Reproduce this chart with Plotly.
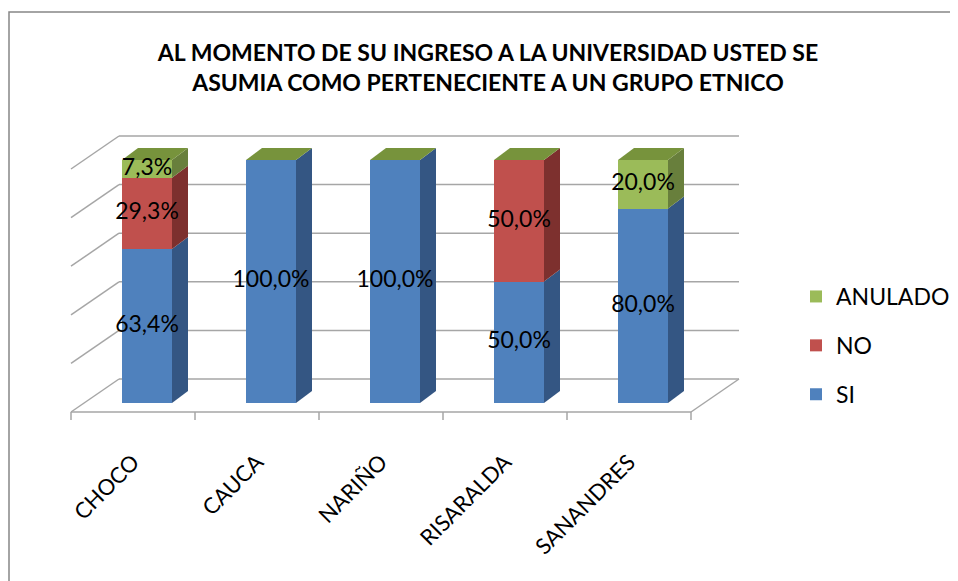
import plotly.graph_objects as go

# data
categories = ['CHOCO', 'CAUCA', 'NARIÑO', 'RISARALDA', 'SANANDRES']
si = [63.4, 100.0, 100.0, 50.0, 80.0]
no = [29.3, 0.0, 0.0, 50.0, 0.0]
anulado = [7.3, 0.0, 0.0, 0.0, 20.0]
grid_ticks = [0, 20, 40, 60, 80, 100]

title = ('AL MOMENTO DE SU INGRESO A LA UNIVERSIDAD USTED SE<br>'
         'ASUMIA COMO PERTENECIENTE A UN GRUPO ETNICO')

# (name, values, front colour, side colour, legend rank)
series = [
    ('SI', si, '#4f81bd', '#345683', 3),
    ('NO', no, '#c0504d', '#7d302e', 2),
    ('ANULADO', anulado, '#9bbb59', '#687f3c', 1),
]
top_color = '#77933c'

# page geometry (pixels); the page body adds an 8px margin
OFF = 8
W, H = 958, 581
L, R, T, B = 52, 206, 112, 159
PX_X = 124.0   # pixels per category
PX_Y = 2.43    # pixels per percent
X0_PX, Y0_PX = 147 - OFF, 403 - OFF  # category 0 at 0 %


def dx(p):
    return p / PX_X


def dy(p):
    return p / PX_Y


def paper_x(p):
    return (p - OFF - L) / (W - L - R)


def paper_y(p):
    return (H - B - (p - OFF)) / (H - T - B)


xmin = -(X0_PX - L) / PX_X
xmax = xmin + (W - L - R) / PX_X
ymax = (Y0_PX - T) / PX_Y
ymin = ymax - (H - T - B) / PX_Y

bar_w = dx(50)
depth = (dx(16), dy(12))
front = (dx(-14), dy(-9))
back = (dx(34), dy(24))

n = len(categories)
xs = list(range(n))

fig = go.Figure()
shapes = []
grid = dict(color='#a6a6a6', width=1.5)

# back wall and left wall
for v in grid_ticks:
    shapes.append(dict(type='line', xref='x', yref='y', layer='below', line=grid,
                       x0=-0.5 + back[0], x1=n - 0.5 + back[0],
                       y0=v + back[1], y1=v + back[1]))
    shapes.append(dict(type='line', xref='x', yref='y', layer='below', line=grid,
                       x0=-0.5 + front[0], x1=-0.5 + back[0],
                       y0=v + front[1], y1=v + back[1]))
# floor
shapes.append(dict(type='line', xref='x', yref='y', layer='below', line=grid,
                   x0=-0.5 + front[0], x1=n - 0.5 + front[0],
                   y0=front[1], y1=front[1]))
shapes.append(dict(type='line', xref='x', yref='y', layer='below', line=grid,
                   x0=n - 0.5 + front[0], x1=n - 0.5 + back[0],
                   y0=front[1], y1=back[1]))
for k in range(n + 1):
    shapes.append(dict(type='line', xref='x', yref='y', layer='below', line=grid,
                       x0=k - 0.5 + front[0], x1=k - 0.5 + front[0],
                       y0=front[1], y1=front[1] - dy(8)))

# bars (front faces)
for name, vals, col, side, rank in series:
    fig.add_trace(go.Bar(x=xs, y=vals, name=name, width=bar_w, legendgroup=name,
                         legendrank=rank,
                         marker=dict(color=col, line=dict(width=0)),
                         hoverinfo='y+name'))

# side and top faces
label_x, label_y, label_t = [], [], []
for i in xs:
    base = 0.0
    xr = i + bar_w / 2
    xl = i - bar_w / 2
    for name, vals, col, side, rank in series:
        v = vals[i]
        if v > 0:
            y0, y1 = base, base + v
            shapes.append(dict(
                type='path', xref='x', yref='y', layer='below',
                path=(f'M {xr},{y0} L {xr},{y1} L {xr + depth[0]},{y1 + depth[1]} '
                      f'L {xr + depth[0]},{y0 + depth[1]} Z'),
                fillcolor=side, line=dict(width=0)))
            label_x.append(i)
            label_y.append(base + v / 2)
            label_t.append(f'{v:.1f}'.replace('.', ',') + '%')
        base += v
    shapes.append(dict(
        type='path', xref='x', yref='y', layer='below',
        path=(f'M {xl},{base} L {xr},{base} L {xr + depth[0]},{base + depth[1]} '
              f'L {xl + depth[0]},{base + depth[1]} Z'),
        fillcolor=top_color, line=dict(width=0)))

fig.add_trace(go.Scatter(x=label_x, y=label_y, text=label_t, mode='text',
                         textfont=dict(size=23, color='black'),
                         showlegend=False, hoverinfo='skip', cliponaxis=False))

# chart border
shapes.append(dict(type='rect', xref='paper', yref='paper',
                   x0=paper_x(9), x1=paper_x(W + 40), y0=paper_y(12), y1=paper_y(H + 40),
                   line=dict(color='#868686', width=1.5), layer='below'))

fig.update_layout(
    width=W, height=H, autosize=False,
    margin=dict(l=L, r=R, t=T, b=B, autoexpand=False),
    paper_bgcolor='white', plot_bgcolor='white',
    font=dict(family='Lato', color='black'),
    title=dict(text=title, x=(488 - OFF) / W, xanchor='center',
               y=1 - (61 - OFF) / H, yanchor='middle',
               font=dict(size=23, family='Lato', color='black', weight='bold')),
    barmode='stack',
    shapes=shapes,
    legend=dict(x=paper_x(796), xanchor='left', y=paper_y(275), yanchor='top',
                traceorder='grouped', tracegroupgap=16,
                font=dict(size=23)),
    xaxis=dict(type='linear', range=[xmin, xmax], showgrid=False, zeroline=False,
               showline=False, ticks='', tickangle=-45, ticklabelstandoff=14,
               tickvals=[i + front[0] for i in xs], ticktext=categories,
               tickfont=dict(size=22)),
    yaxis=dict(range=[ymin, ymax], visible=False),
)

fig.write_html('out.html')
